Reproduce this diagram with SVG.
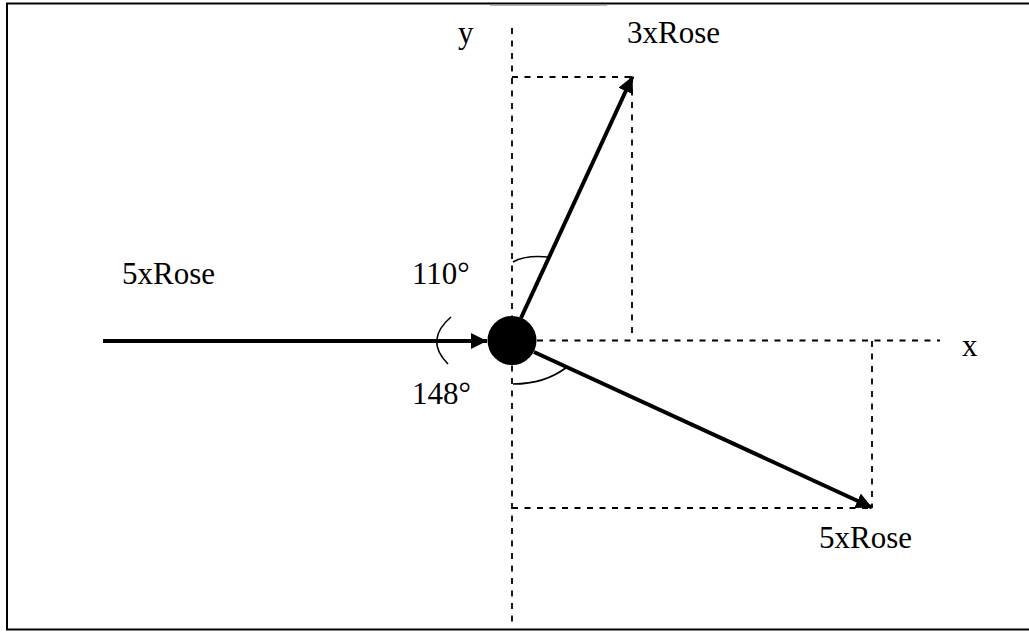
<svg xmlns="http://www.w3.org/2000/svg" width="1029" height="632" viewBox="0 0 1029 632">
<style>
.lbl{font-family:"Liberation Serif","Times New Roman",serif;font-size:31px;fill:#000}
.dash{stroke:#000;stroke-width:1.8;stroke-dasharray:6 6.5;fill:none}
.arrow{stroke:#000;stroke-width:4;fill:none}
.arc{stroke:#000;stroke-width:1.6;fill:none}
</style>
<defs>
<marker id="ah" markerUnits="userSpaceOnUse" markerWidth="18" markerHeight="17" refX="16" refY="8" orient="auto">
<path d="M0,0 L16,8 L0,16 Z" fill="#000"/>
</marker>
</defs>
<rect width="1029" height="632" fill="#fff"/>
<rect id="frame" x="7" y="3.5" width="1030" height="626" fill="none" stroke="#000" stroke-width="2"/>
<line x1="490" y1="5.2" x2="607" y2="5.2" stroke="#999" stroke-width="1"/>
<g id="axes">
<line class="dash" x1="512" y1="28" x2="512" y2="628"/>
<line class="dash" x1="537" y1="340.5" x2="940" y2="340.5"/>
</g>
<g id="projections">
<line class="dash" x1="512" y1="77" x2="632" y2="77"/>
<line class="dash" x1="632" y1="77" x2="632" y2="336"/>
<line class="dash" x1="872" y1="341" x2="872" y2="508"/>
<line class="dash" x1="512" y1="508" x2="872" y2="508"/>
</g>
<g id="connectors">
<line class="arrow" x1="103" y1="341" x2="487" y2="341" marker-end="url(#ah)"/>
<line class="arrow" x1="521" y1="318" x2="632.5" y2="76.5" marker-end="url(#ah)"/>
<line class="arrow" x1="534" y1="352" x2="872" y2="507.5" marker-end="url(#ah)"/>
</g>
<g id="angles">
<path class="arc" d="M513,262 Q525,255 548,257"/>
<path class="arc" d="M451,317 Q424,340 448,364"/>
<path class="arc" d="M513,384 Q545,384 567,367"/>
</g>
<g id="body"><circle cx="512" cy="340.5" r="24.5" fill="#000"/></g>
<g id="labels">
<text class="lbl" x="458" y="43">y</text>
<text class="lbl" x="627" y="43">3xRose</text>
<text class="lbl" x="122" y="284">5xRose</text>
<text class="lbl" x="412" y="284">110°</text>
<text class="lbl" x="412" y="404">148°</text>
<text class="lbl" x="962" y="356">x</text>
<text class="lbl" x="819" y="548">5xRose</text>
</g>
</svg>
